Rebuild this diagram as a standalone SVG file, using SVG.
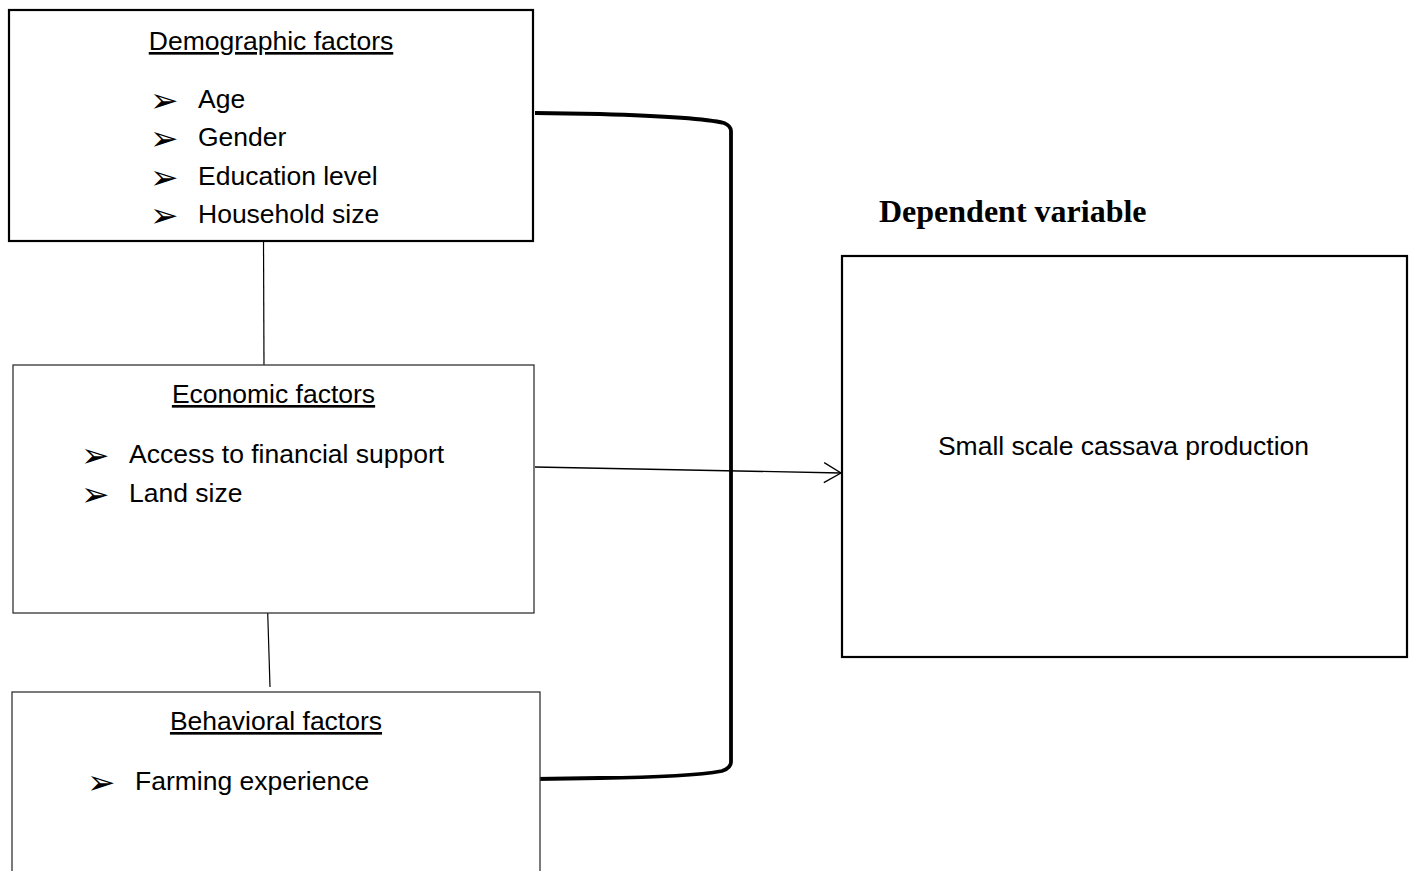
<svg xmlns="http://www.w3.org/2000/svg" width="1409" height="871" viewBox="0 0 1409 871">
<style>
.box{fill:#fff;stroke:#000}
.thin{stroke:#333;stroke-width:1.3}
.thick{stroke:#000;stroke-width:2.2}
.t{font-family:"Liberation Sans",Arial,sans-serif;font-size:26.5px;fill:#000}
.h{text-decoration:underline}
.b{font-family:"DejaVu Sans",sans-serif;font-size:34px;fill:#000}
.c{fill:none;stroke:#000}
</style>
<defs>
<marker id="open" markerUnits="userSpaceOnUse" markerWidth="24" markerHeight="26" refX="18" refY="11" orient="auto">
<path d="M1,1 L18,11 L1,21" fill="none" stroke="#000" stroke-width="1.3"/>
</marker>
</defs>
<rect width="1409" height="871" fill="#fff"/>
<g id="connectors">
<line class="c" x1="263.5" y1="237" x2="264" y2="367" stroke-width="1.2"/>
<line class="c" x1="267.5" y1="606" x2="270" y2="687" stroke-width="1.2"/>
<line class="c" x1="535" y1="467" x2="841" y2="473" stroke-width="1.3" marker-end="url(#open)"/>
<path class="c" stroke-width="3.8" d="M535,113 L600,114 Q700,117 724,123 Q731,126 731,131 L731,762 Q731,768 722,771 Q690,777 600,778 L536,779"/>
</g>
<g id="demographic">
<rect class="box thick" x="9" y="10" width="524" height="231"/>
<text class="t h" x="271" y="50" text-anchor="middle">Demographic factors</text>
<text class="b" x="150" y="112">➢</text><text class="t" x="198" y="108">Age</text>
<text class="b" x="150" y="150">➢</text><text class="t" x="198" y="146">Gender</text>
<text class="b" x="150" y="189">➢</text><text class="t" x="198" y="185">Education level</text>
<text class="b" x="150" y="227">➢</text><text class="t" x="198" y="223">Household size</text>
</g>
<g id="economic">
<rect class="box thin" x="13" y="365" width="521" height="248"/>
<text class="t h" x="273.5" y="403" text-anchor="middle">Economic factors</text>
<text class="b" x="81" y="467">➢</text><text class="t" x="129" y="463">Access to financial support</text>
<text class="b" x="81" y="506">➢</text><text class="t" x="129" y="502">Land size</text>
</g>
<g id="behavioral">
<rect class="box thin" x="12" y="692" width="528" height="200"/>
<text class="t h" x="276" y="730" text-anchor="middle">Behavioral factors</text>
<text class="b" x="87" y="794">➢</text><text class="t" x="135" y="790">Farming experience</text>
</g>
<g id="dependent">
<text x="879" y="222" font-family="'Liberation Serif','Times New Roman',serif" font-weight="bold" font-size="32">Dependent variable</text>
<rect class="box thick" x="842" y="256" width="565" height="401"/>
<text class="t" x="1123.5" y="455" text-anchor="middle">Small scale cassava production</text>
</g>
</svg>
